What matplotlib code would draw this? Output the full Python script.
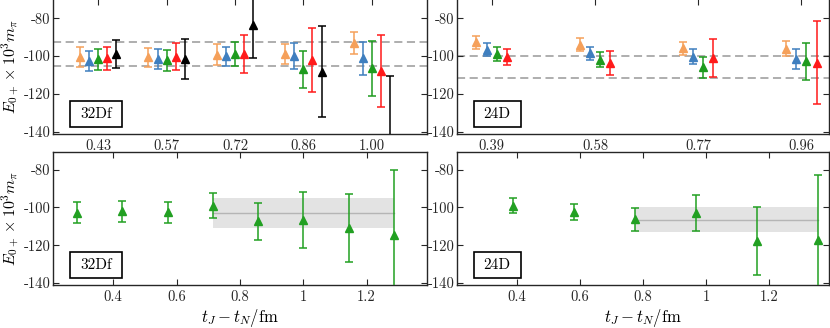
import matplotlib
matplotlib.use("Agg")
import matplotlib.pyplot as plt
from matplotlib.patches import Rectangle
import numpy as np

plt.rcParams['font.family'] = 'cmr10'
plt.rcParams['mathtext.fontset'] = 'cm'
plt.rcParams['axes.unicode_minus'] = False
plt.rcParams['axes.formatter.use_mathtext'] = True

# ---- data ----
# top left (32Df), series: orange, blue, green, red, black
tl_t = [0.4286, 0.5714, 0.7143, 0.8571, 1.0]
tl_labels = ['0.43', '0.57', '0.72', '0.86', '1.00']
tl_y = [[-100.5, -100.7, -99.3, -99.0, -93.0],
        [-102.4, -101.6, -100.1, -100.0, -101.2],
        [-101.7, -102.3, -98.8, -107.0, -106.5],
        [-101.2, -100.3, -98.8, -102.0, -107.7],
        [-99.0, -101.5, -83.5, -108.2, -146.0]]
tl_e = [[5.5, 5.2, 5.5, 5.3, 6.0],
        [5.3, 5.2, 5.1, 6.8, 8.8],
        [5.6, 5.5, 6.5, 9.7, 14.6],
        [6.0, 7.0, 10.0, 17.0, 19.0],
        [7.5, 10.6, 17.7, 24.2, 35.5]]
tl_dash = [-92.3, -105.2]

# top right (24D), series: orange, blue, green, red
tr_t = [0.387, 0.581, 0.774, 0.968]
tr_labels = ['0.39', '0.58', '0.77', '0.96']
tr_y = [[-92.7, -94.0, -95.8, -96.1],
        [-96.6, -98.5, -100.4, -101.7],
        [-98.8, -102.0, -106.0, -102.8],
        [-100.6, -103.5, -100.8, -103.5]]
tr_e = [[3.3, 3.4, 3.5, 3.9],
        [3.4, 3.5, 4.0, 5.3],
        [3.8, 4.0, 5.7, 9.9],
        [4.3, 6.4, 10.1, 21.8]]
tr_dash = [-100.0, -111.8]

# bottom left (32Df)
bl_t = [0.2857, 0.4286, 0.5714, 0.7143, 0.8571, 1.0, 1.1429, 1.2857]
bl_y = [-102.9, -102.0, -102.6, -99.1, -107.3, -106.7, -110.8, -114.5]
bl_e = [5.6, 5.5, 5.5, 6.5, 9.7, 14.6, 18.0, 34.5]
bl_fit = [-102.9, -110.9, -95.0]   # center, low, high
bl_fit_t = [0.7143, 1.2857]

# bottom right (24D)
br_t = [0.387, 0.581, 0.774, 0.968, 1.161, 1.355]
br_y = [-99.0, -102.5, -106.3, -103.1, -117.7, -117.5]
br_e = [3.8, 4.2, 6.0, 9.6, 17.9, 34.5]
br_fit = [-106.5, -113.0, -99.8]
br_fit_t = [0.774, 1.355]

colors5 = ['#F5A05A', '#3F7FBF', '#1E9B1E', '#FF1A1A', '#000000']
green = '#22A022'
yt = [-80, -100, -120, -140]
ytl = ['-80', '-100', '-120', '-140']

fig = plt.figure(figsize=(8.3, 3.28), dpi=100)
ax_tl = fig.add_axes([0.0642, 0.5915, 0.4498, 0.4116])
ax_tr = fig.add_axes([0.5506, 0.5915, 0.4476, 0.4116])
ax_bl = fig.add_axes([0.0642, 0.1326, 0.4498, 0.4030])
ax_br = fig.add_axes([0.5506, 0.1326, 0.4476, 0.4030])


def style(ax, label):
    for s in ax.spines.values():
        s.set_linewidth(1.0)
        s.set_color('#262626')
    ax.set_yticks(yt)
    ax.set_yticklabels(ytl)
    ax.tick_params(direction='in', top=True, right=True, length=4,
                   width=0.8, color='#262626', labelsize=10.5,
                   labelcolor='#262626', pad=2)
    ax.tick_params(axis='x', pad=4)
    w = 0.139 if label == '32Df' else 0.127
    ax.add_patch(Rectangle((0.045, 0.05), w, 0.195,
                           transform=ax.transAxes, fc='white', ec='black',
                           lw=1.2, zorder=5))
    ax.text(0.045 + w / 2, 0.05 + 0.195 / 2, label, transform=ax.transAxes,
            ha='center', va='center', fontsize=11, zorder=6)


def pts(ax, x, y, e, c):
    ax.errorbar(x, y, yerr=e, fmt='^', color=c, ms=6, capsize=3,
                elinewidth=1.1, capthick=1.1, zorder=3)


# top left
for v in tl_dash:
    ax_tl.axhline(v, color='#A8A8A8', ls=(0, (4.5, 2.5)), lw=1.3, zorder=1)
for i in range(5):
    x = np.array(tl_t) + (i - 2) * 0.019
    pts(ax_tl, x, tl_y[i], tl_e[i], colors5[i])
ax_tl.set_xlim(0.3346, 1.1145)
ax_tl.set_ylim(-141.2, -69.8)
ax_tl.set_xticks(tl_t)
ax_tl.set_xticklabels(tl_labels)
style(ax_tl, '32Df')
ax_tl.tick_params(axis='x', bottom=False)
ax_tl.set_ylabel(r'$E_{0+}\times 10^3 m_\pi$', fontsize=11.5)
ax_tl.yaxis.set_label_coords(-0.084, 0.5)

# top right
for v in tr_dash:
    ax_tr.axhline(v, color='#A8A8A8', ls=(0, (4.5, 2.5)), lw=1.3, zorder=1)
for i in range(4):
    x = np.array(tr_t) + (i - 1.5) * 0.0191
    pts(ax_tr, x, tr_y[i], tr_e[i], colors5[i])
ax_tr.set_xlim(0.322, 1.019)
ax_tr.set_ylim(-141.2, -69.8)
ax_tr.set_xticks(tr_t)
ax_tr.set_xticklabels(tr_labels)
style(ax_tr, '24D')
ax_tr.tick_params(axis='x', bottom=False)

# bottom left
ax_bl.fill_between(bl_fit_t, bl_fit[1], bl_fit[2], color='#E3E3E3', lw=0, zorder=1)
ax_bl.plot(bl_fit_t, [bl_fit[0]] * 2, color='#B5B5B5', lw=1.0, zorder=2)
pts(ax_bl, bl_t, bl_y, bl_e, green)
ax_bl.set_xlim(0.2105, 1.3895)
ax_bl.set_ylim(-140.8, -70.85)
ax_bl.set_xticks([0.4, 0.6, 0.8, 1.0, 1.2])
ax_bl.set_xticklabels(['0.4', '0.6', '0.8', '1', '1.2'])
style(ax_bl, '32Df')
ax_bl.set_ylabel(r'$E_{0+}\times 10^3 m_\pi$', fontsize=11.5)
ax_bl.yaxis.set_label_coords(-0.084, 0.5)
ax_bl.set_xlabel(r'$t_J-t_N/\mathrm{fm}$', fontsize=12, labelpad=2)

# bottom right
ax_br.fill_between(br_fit_t, br_fit[1], br_fit[2], color='#E3E3E3', lw=0, zorder=1)
ax_br.plot(br_fit_t, [br_fit[0]] * 2, color='#B5B5B5', lw=1.0, zorder=2)
pts(ax_br, br_t, br_y, br_e, green)
ax_br.set_xlim(0.2108, 1.3886)
ax_br.set_ylim(-140.8, -70.85)
ax_br.set_xticks([0.4, 0.6, 0.8, 1.0, 1.2])
ax_br.set_xticklabels(['0.4', '0.6', '0.8', '1', '1.2'])
style(ax_br, '24D')
ax_br.set_xlabel(r'$t_J-t_N/\mathrm{fm}$', fontsize=12, labelpad=2)

fig.savefig('out.png', dpi=100)
